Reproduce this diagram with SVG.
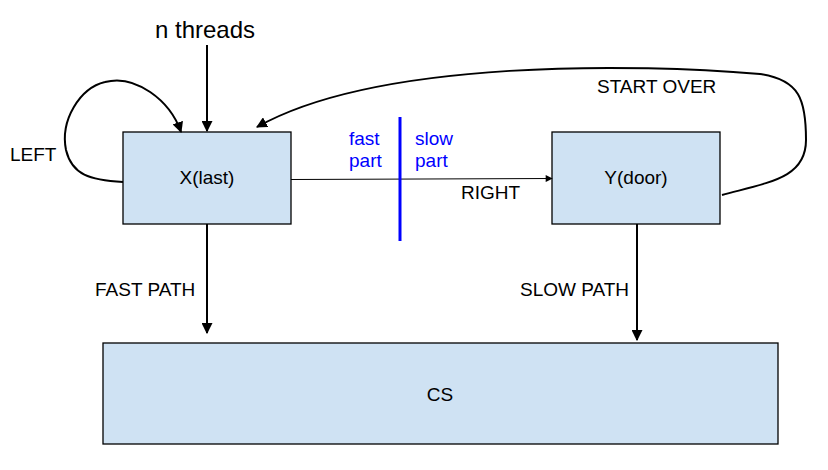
<svg xmlns="http://www.w3.org/2000/svg" width="828" height="470" viewBox="0 0 828 470">
<style>
.box{fill:#cfe2f3;stroke:#000;stroke-width:1.3}
.t{font-family:"Liberation Sans",Arial,sans-serif;font-size:19px;fill:#000}
.c{stroke:#000;fill:none;stroke-width:2}
.b{font-family:"Liberation Sans",Arial,sans-serif;font-size:19px;fill:#0000ff}
</style>
<defs>
<marker id="ah" viewBox="0 0 10 10" refX="9" refY="5" markerWidth="5.5" markerHeight="5.5" markerUnits="strokeWidth" orient="auto"><path d="M0,0L10,5L0,10z" fill="#000"/></marker>
<marker id="ahs" viewBox="0 0 10 10" refX="9" refY="5" markerWidth="8" markerHeight="7" markerUnits="strokeWidth" orient="auto"><path d="M0,0L10,5L0,10z" fill="#000"/></marker>
</defs>
<rect width="828" height="470" fill="#fff"/>
<g id="nodeX"><rect class="box" x="123" y="132" width="168" height="92"/><text class="t" x="207" y="184" text-anchor="middle">X(last)</text></g>
<g id="nodeY"><rect class="box" x="552" y="132" width="168" height="92"/><text class="t" x="636" y="184" text-anchor="middle">Y(door)</text></g>
<g id="nodeCS"><rect class="box" x="103" y="343" width="675" height="101"/><text class="t" x="440" y="401" text-anchor="middle">CS</text></g>
<g id="connectors">
<line class="c" x1="207" y1="45" x2="207" y2="131" marker-end="url(#ah)"/>
<path class="c" d="M123,182 C90,180 72,175 66,150 C60,120 80,88 105,82 C135,74 170,100 181,132" marker-end="url(#ah)"/>
<path class="c" d="M722,195 C770,182 806,178 806,140 C806,100 800,80 760,74 C640,64 380,58 257,127" marker-end="url(#ah)"/>
<line x1="291" y1="179.5" x2="552" y2="178.5" stroke="#000" stroke-width="1" marker-end="url(#ahs)"/>
<line class="c" x1="207" y1="224" x2="207" y2="333" marker-end="url(#ah)"/>
<line class="c" x1="637" y1="224" x2="637" y2="340" marker-end="url(#ah)"/>
</g>
<line x1="400" y1="117" x2="400" y2="241" stroke="#0000ff" stroke-width="3"/>
<text x="205" y="38" text-anchor="middle" style="font-family:'Liberation Sans',Arial,sans-serif;font-size:24px">n threads</text>
<text class="t" x="10" y="161">LEFT</text>
<text class="t" x="597" y="93">START OVER</text>
<text class="t" x="461" y="199">RIGHT</text>
<text class="t" x="95" y="296">FAST PATH</text>
<text class="t" x="520" y="296">SLOW PATH</text>
<text class="b" x="349" y="145">fast</text>
<text class="b" x="349" y="167">part</text>
<text class="b" x="415" y="145">slow</text>
<text class="b" x="415" y="167">part</text>
</svg>
